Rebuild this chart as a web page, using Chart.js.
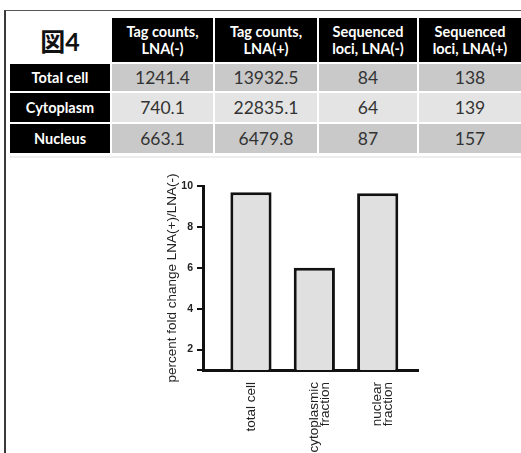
<!DOCTYPE html>
<html>
<head>
<meta charset="utf-8">
<script src="https://cdn.jsdelivr.net/npm/chart.js@4.4.0/dist/chart.umd.min.js"></script>
<style>
    html, body { margin: 0; padding: 0; background: #fff; width: 521px; height: 453px; overflow: hidden; }
    #frame { position: absolute; left: 4px; top: 10px; width: 540px; height: 460px; border-left: 2px solid #3a3a3a; border-top: 1px solid #555; }
    #tbl { position: absolute; left: 10px; top: 18px; display: grid; grid-template-columns: 100px 101px 102px 98px 102px; grid-template-rows: 44px 27px 29px 29px; gap: 2px; font-family: Lato, sans-serif; }
    #tbl div { display: flex; align-items: center; justify-content: center; text-align: center; }
    .fig { font-family: Lato, "Noto Sans CJK JP", sans-serif; font-weight: bold; font-size: 25px; color: #111; }
    .hd { background: #000; color: #fff; font-weight: bold; font-size: 14.5px; line-height: 17px; }
    .rl { background: #000; color: #fff; font-weight: bold; font-size: 14.5px; }
    .dark { background: #c9c9c9; color: #333; font-size: 17.5px; }
    .light { background: #e4e4e4; color: #333; font-size: 17.5px; }
    #shadow { position: absolute; left: 10px; top: 156px; width: 520px; height: 2px; background: #ededed; }
    #chart { position: absolute; left: 130px; top: 165px; }
</style>
</head>
<body>
<div id="frame"></div>
<div id="tbl"></div>
<div id="shadow"></div>
<canvas id="chart" width="391" height="288"></canvas>
<script>
// table data
const figureLabel = '図4';
const columnHeaders = [['Tag counts,', 'LNA(-)'], ['Tag counts,', 'LNA(+)'], ['Sequenced', 'loci, LNA(-)'], ['Sequenced', 'loci, LNA(+)']];
const rowNames = ['Total cell', 'Cytoplasm', 'Nucleus'];
const tagCountsMinus = ['1241.4', '740.1', '663.1'];
const tagCountsPlus = ['13932.5', '22835.1', '6479.8'];
const lociMinus = ['84', '64', '87'];
const lociPlus = ['138', '139', '157'];

// chart data
const categories = ['total cell', ['cytoplasmic', 'fraction'], ['nuclear', 'fraction']];
const foldChange = [9.7, 6.0, 9.65];
const yTitle = 'percent fold change LNA(+)/LNA(-)';
const yMin = 1;
const yMax = 10;
const yStep = 2;

// build the table
const tbl = document.getElementById('tbl');
function addCell(cls, html) {
    const d = document.createElement('div');
    d.className = cls;
    d.innerHTML = html;
    tbl.appendChild(d);
}
addCell('fig', figureLabel);
columnHeaders.forEach(h => addCell('hd', h.join('<br>')));
rowNames.forEach((name, i) => {
    const cls = i % 2 === 0 ? 'dark' : 'light';
    addCell('rl', name);
    [tagCountsMinus, tagCountsPlus, lociMinus, lociPlus].forEach(col => addCell(cls, col[i]));
});

// bar chart
const axisFont = { family: "'Liberation Sans', Arial, sans-serif" };
new Chart(document.getElementById('chart'), {
    type: 'bar',
    data: {
        datasets: [{
            data: foldChange.map((v, i) => ({ x: i, y: v })),
            backgroundColor: '#e0e0e0',
            borderColor: '#111',
            borderWidth: 3,
            borderSkipped: 'start',
            categoryPercentage: 1,
            barPercentage: 0.65
        }]
    },
    options: {
        responsive: false,
        animation: false,
        layout: { padding: { left: 30, right: 103, top: 21, bottom: 0 } },
        plugins: { legend: { display: false }, tooltip: { enabled: false } },
        scales: {
            x: {
                type: 'linear',
                min: -0.757,
                max: 2.636,
                offset: false,
                z: 1,
                grid: { display: true, drawOnChartArea: false, drawTicks: false, offset: false },
                border: { display: true, color: '#111', width: 3 },
                ticks: {
                    stepSize: 1,
                    includeBounds: false,
                    autoSkip: false,
                    minRotation: 90,
                    maxRotation: 90,
                    padding: 12,
                    color: '#222',
                    font: { ...axisFont, size: 13.5, lineHeight: 0.82 },
                    callback: v => Number.isInteger(v) && categories[v] ? categories[v] : ''
                },
                afterFit: s => { s.height = 83; s.paddingLeft = 0; s.paddingRight = 0; }
            },
            y: {
                min: yMin,
                max: yMax,
                z: 1,
                grid: { drawOnChartArea: false, tickLength: 6, lineWidth: 2, color: '#111' },
                border: { display: true, color: '#111', width: 3 },
                ticks: {
                    stepSize: yStep,
                    padding: 4,
                    color: '#222',
                    font: { ...axisFont, size: 10.5, weight: 'bold' },
                    callback: v => v === yMin ? '' : v
                },
                title: {
                    display: true,
                    text: yTitle,
                    color: '#222',
                    font: { ...axisFont, size: 13.5 }
                },
                afterFit: s => { s.width = 43; s.paddingTop = 0; s.paddingBottom = 0; }
            }
        }
    }
});
</script>
</body>
</html>
